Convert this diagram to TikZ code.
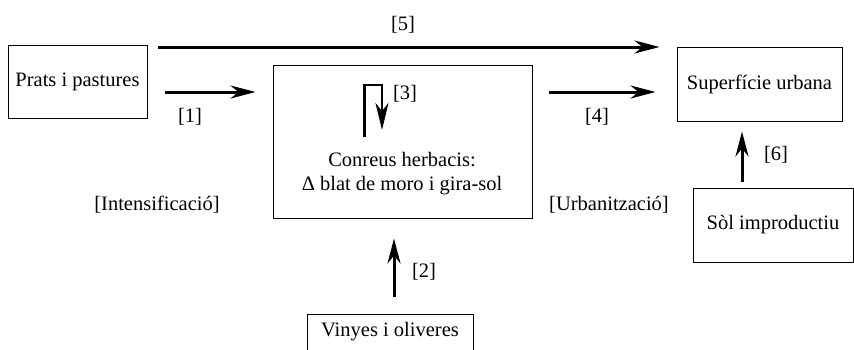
\documentclass[tikz,border=0pt]{standalone}
\usepackage{fontspec}
\setmainfont{Liberation Serif}
\usetikzlibrary{arrows.meta}
\begin{document}
\begin{tikzpicture}[x=1pt,y=-1pt,
  every node/.style={font=\fontsize{20.5}{26}\selectfont, inner sep=0pt},
  box/.style={draw, line width=1pt, align=center},
  arr/.style={line width=3pt, -{Stealth[length=25pt,width=13pt,inset=8pt]}},
  lbl/.style={}]
\path[use as bounding box, clip] (0,0) rectangle (854,349);
\fill[white] (0,0) rectangle (854,349);
% boxes
\node[box, minimum width=139pt, minimum height=73pt] (prats) at (77.5,81.5) {Prats i pastures};
\node[box, minimum width=259pt, minimum height=153pt] (conreus) at (402.5,141.5) {};
\node (ct1) at (402,160) {Conreus herbacis:};
\node (ct2) at (402,186) {Δ blat de moro i gira-sol};
\node[box, minimum width=165pt, minimum height=74pt] (urbana) at (759.5,84) {Superfície urbana};
\node[box, minimum width=160pt, minimum height=74pt] (sol) at (773,225) {Sòl improductiu};
\node[box, minimum width=166pt, minimum height=44pt] (vinyes) at (390,336) {};
\node (vt) at (390,332) {Vinyes i oliveres};
% helper coordinates
\coordinate (r1) at (0,92);
\coordinate (r5) at (0,47);
\coordinate (s5) at (158,47);
\coordinate (c6) at (742,0);
\coordinate (c2) at (394,0);
% arrows
\draw[arr, shorten >=17pt] (s5) -- (urbana.west |- r5);
\draw[arr, shorten <=17pt, shorten >=17pt] (prats.east |- r1) -- (conreus.west |- r1);
\draw[arr, shorten <=16pt, shorten >=21pt] (conreus.east |- r1) -- (urbana.west |- r1);
\draw[arr, shorten <=6pt, shorten >=10pt] (sol.north -| c6) -- (urbana.south -| c6);
\draw[arr, shorten <=17pt, shorten >=20pt] (vinyes.north -| c2) -- (conreus.south -| c2);
% loop [3]
\coordinate (l1) at (364.5,137);
\coordinate (l2) at (364.5,85);
\coordinate (l3) at (382,85);
\coordinate (l4) at (382,130);
\draw[line width=2.6pt, -{Stealth[length=27pt,width=13pt,inset=8pt]}] (l1) -- (l2) -- (l3) -- (l4);
% labels
\node[lbl] (t5) at (403,25) {[5]};
\node[lbl] (t1) at (190,117) {[1]};
\node[lbl] (t4) at (597,117) {[4]};
\node[lbl] (t3) at (405,94) {[3]};
\node[lbl] (t6) at (776,155) {[6]};
\node[lbl] (t2) at (424,272) {[2]};
\node[lbl] (ti) at (157,205) {[Intensificació]};
\node[lbl] (tu) at (609,205) {[Urbanització]};
\end{tikzpicture}
\end{document}
